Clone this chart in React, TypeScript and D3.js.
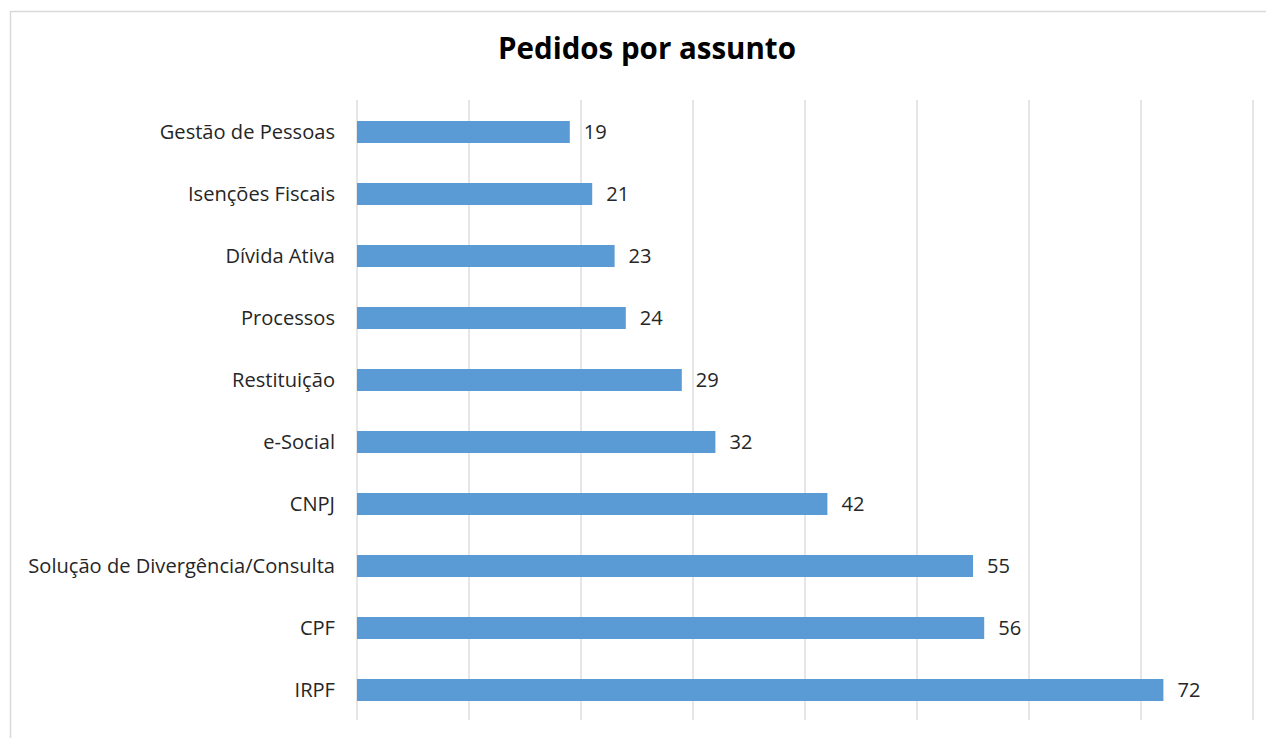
import React from "react";
import * as d3 from "d3";

const categories = [
  "Gestão de Pessoas",
  "Isenções Fiscais",
  "Dívida Ativa",
  "Processos",
  "Restituição",
  "e-Social",
  "CNPJ",
  "Solução de Divergência/Consulta",
  "CPF",
  "IRPF",
];
const values = [19, 21, 23, 24, 29, 32, 42, 55, 56, 72];
const xTicks = [0, 10, 20, 30, 40, 50, 60, 70, 80];
const title = "Pedidos por assunto";

const W = 1266;
const H = 738;
const FONT = "Open Sans, Noto Sans, sans-serif";

export default function App() {
  const x = d3.scaleLinear().domain([0, 80]).range([357, 1253]);
  const y = d3.scaleBand<string>().domain(categories).range([101, 721]).paddingInner(0.645).paddingOuter(0.3225);
  const bw = y.bandwidth();
  return (
    <svg
      width={W}
      height={H}
      style={{ position: "absolute", left: 0, top: 0, background: "#fff" }}
    >
      <rect x={10.5} y={11.5} width={W + 10} height={H + 10} fill="#fff" stroke="#d9d9d9" strokeWidth={1.5} />
      <text x={647} y={59} textAnchor="middle" fontFamily={FONT} fontWeight="bold" fontSize={29.5} fill="#000">
        {title}
      </text>
      {xTicks.map((t) => (
        <line key={t} x1={x(t)} x2={x(t)} y1={100} y2={720} stroke="#d9d9d9" strokeWidth={1.3} />
      ))}
      {categories.map((c, i) => {
        const yy = y(c)!;
        return (
          <g key={c}>
            <rect x={x(0)} y={yy} width={x(values[i]) - x(0)} height={bw} fill="#5b9bd5" />
            <text x={335} y={yy + bw / 2} dy="0.36em" textAnchor="end" fontFamily={FONT} fontSize={20.1} fill="#262626">
              {c}
            </text>
            <text x={x(values[i]) + 14} y={yy + bw / 2} dy="0.36em" textAnchor="start" fontFamily={FONT} fontSize={20.1} fill="#262626">
              {values[i]}
            </text>
          </g>
        );
      })}
    </svg>
  );
}
